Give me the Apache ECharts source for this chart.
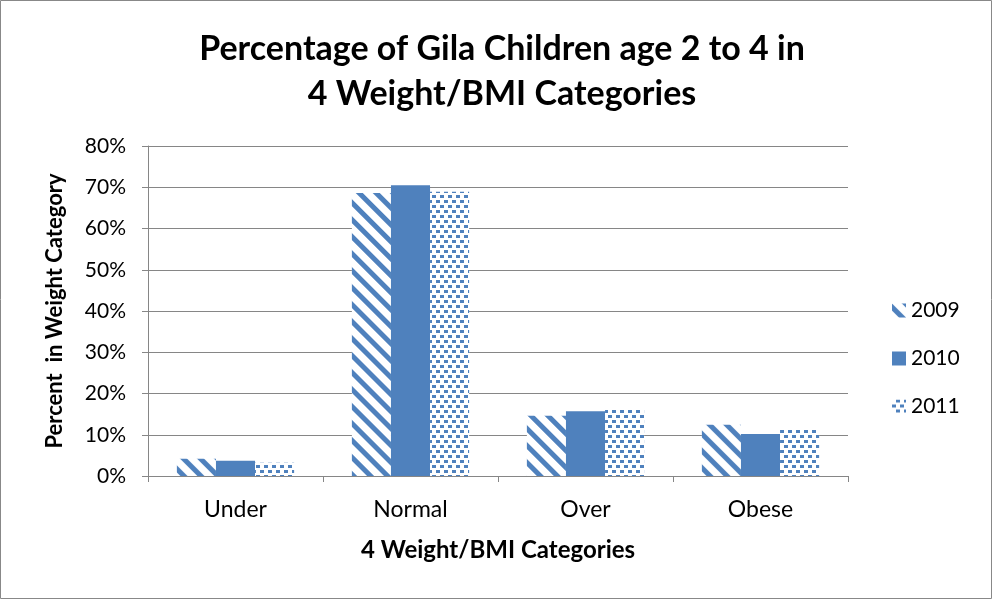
<!DOCTYPE html>
<html>
<head>
<meta charset="utf-8">
<script src="https://cdn.jsdelivr.net/npm/echarts@6/dist/echarts.min.js"></script>
<style>html,body{margin:0;padding:0;background:#fff}#c{width:992px;height:599px}</style>
</head>
<body>
<div id="c"></div>
<script>
var categories = ['Under', 'Normal', 'Over', 'Obese'];
var seriesNames = ['2009', '2010', '2011'];
var v2009 = [4.2, 68.6, 14.6, 12.4];
var v2010 = [3.7, 70.5, 15.7, 10.2];
var v2011 = [3.2, 68.9, 16.4, 11.2];
var yTicks = [0, 10, 20, 30, 40, 50, 60, 70, 80];

var BLUE = '#4F81BD';
var FONT = 'Lato';
var chart = echarts.init(document.getElementById('c'));
var stripe = { color: BLUE, symbol: 'rect', symbolSize: 1, dashArrayX: [1, 0], dashArrayY: [5, 7], rotation: Math.PI / 4 };
var dots = { color: BLUE, symbol: 'rect', symbolSize: 1, dashArrayX: [[4, 4], [0, 4, 4, 0]], dashArrayY: [3, 2] };

chart.setOption({
  animation: false,
  title: {
    text: 'Percentage of Gila Children age 2 to 4 in\n4 Weight/BMI Categories',
    left: 497, top: 22, textAlign: 'center',
    textStyle: { fontFamily: FONT, fontSize: 34, fontWeight: 'bold', color: '#000', lineHeight: 45 }
  },
  legend: {
    orient: 'vertical', left: 887, top: 295, itemGap: 27,
    itemWidth: 14, itemHeight: 14, icon: 'rect',
    textStyle: { fontFamily: FONT, fontSize: 21, color: '#000' },
    data: seriesNames
  },
  graphic: [{ type: 'rect', shape: { x: 0.5, y: 0.5, width: 991, height: 598 }, style: { fill: 'none', stroke: '#888', lineWidth: 1 } }],
  grid: { left: 148, right: 144, top: 146, bottom: 123 },
  xAxis: {
    type: 'category', data: categories,
    name: '4 Weight/BMI Categories', nameLocation: 'middle', nameGap: 62,
    nameTextStyle: { fontFamily: FONT, fontSize: 24, fontWeight: 'bold', color: '#000' },
    axisLine: { lineStyle: { color: '#868686' } },
    axisTick: { show: true, length: 6, lineStyle: { color: '#868686' } },
    axisLabel: { fontFamily: FONT, fontSize: 23, color: '#000', margin: 22 }
  },
  yAxis: {
    type: 'value', min: 0, max: 80, interval: 10,
    name: 'Percent  in Weight Category', nameLocation: 'middle', nameGap: 82,
    nameTextStyle: { fontFamily: FONT, fontSize: 22, fontWeight: 'bold', color: '#000' },
    axisLine: { show: true, lineStyle: { color: '#868686' } },
    axisTick: { show: true, length: 6, lineStyle: { color: '#868686' } },
    splitLine: { lineStyle: { color: '#868686' } },
    axisLabel: { fontFamily: FONT, fontSize: 21, color: '#000', margin: 22,
      formatter: function (v) { return yTicks.indexOf(v) >= 0 ? v + '%' : ''; } }
  },
  series: [
    { name: '2009', type: 'bar', data: v2009, barGap: '0%', barCategoryGap: '33%',
      itemStyle: { color: '#fff', decal: stripe } },
    { name: '2010', type: 'bar', data: v2010, itemStyle: { color: BLUE } },
    { name: '2011', type: 'bar', data: v2011, itemStyle: { color: '#fff', decal: dots } }
  ]
});
</script>
</body>
</html>
